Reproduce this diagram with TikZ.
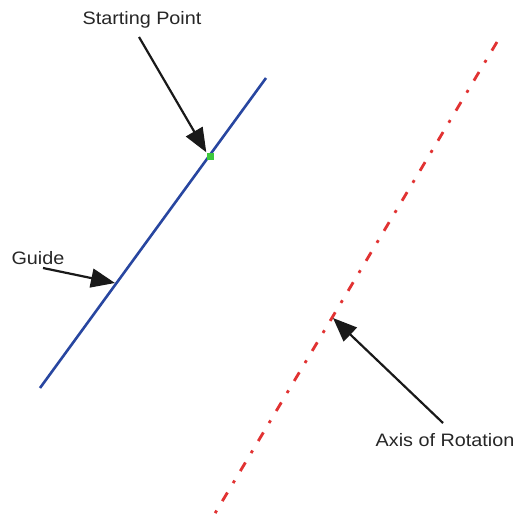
\documentclass[tikz,border=0pt]{standalone}
\usepackage{fontspec}
\setmainfont{Liberation Sans}
\usetikzlibrary{arrows.meta}
\definecolor{guideblue}{RGB}{40,70,160}
\definecolor{axisred}{RGB}{225,50,50}
\definecolor{startgreen}{RGB}{60,200,60}
\tikzset{
  lbl/.style={font=\fontsize{18}{20}\selectfont, text=black!85, inner sep=0pt, xscale=1.1},
  pointer/.style={line width=2.2pt, black!90, -{Triangle[length=24pt,width=19pt]}},
  guideline/.style={line width=2.6pt, guideblue},
  axisline/.style={line width=2.8pt, axisred, dash pattern=on 10pt off 11pt on 3pt off 11pt},
}
\begin{document}
\begin{tikzpicture}[x=1pt,y=-1pt]
\useasboundingbox (0,0) rectangle (518,519);
% guide
\coordinate (g1) at (266,78);
\coordinate (g2) at (40,388);
\draw[guideline] (g1) -- (g2);
% axis
\coordinate (a1) at (497,42);
\coordinate (a2) at (214,515);
\draw[axisline] (a1) -- (a2);
% start point
\node[fill=startgreen, minimum size=7pt, inner sep=0pt] (sp) at (210,156) {};
% targets
\coordinate (gt) at (115,283);
\coordinate (at) at (333,318);
% labels
\node[lbl] (lstart) at (142,20) {Starting Point};
\node[lbl] (lguide) at (38,258) {Guide};
\node[lbl] (laxis) at (445,440) {Axis of Rotation};
\coordinate (st) at (139,37);
\coordinate (gs) at (43,268);
\coordinate (as) at (443,423);
\draw[pointer] (st) -- (sp.north west);
\draw[pointer] (gs) -- (gt);
\draw[pointer] (as) -- (at);
\end{tikzpicture}
\end{document}
